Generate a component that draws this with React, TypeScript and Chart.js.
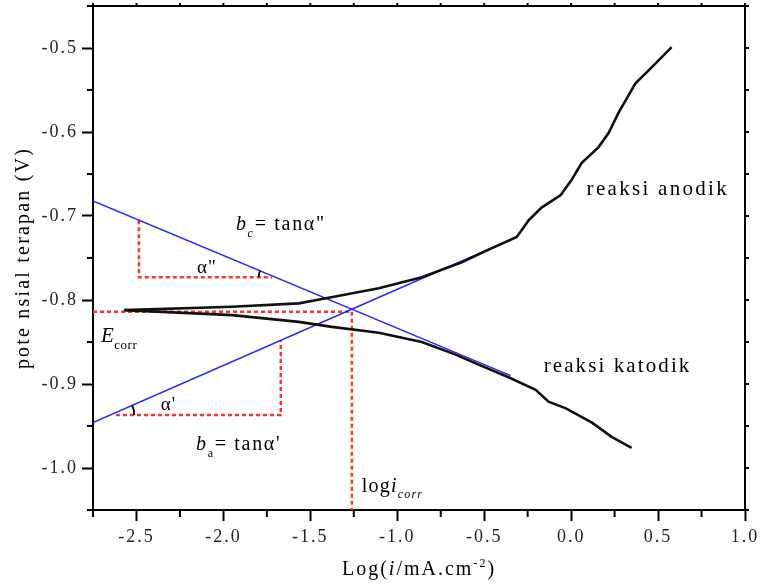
import React, { useEffect, useRef } from 'react';
import { Chart, registerables } from 'chart.js';

Chart.register(...registerables);

const FONT = '"Liberation Serif", "Times New Roman", serif';

// Axis ranges and ticks
const X_MIN = -2.75;
const X_MAX = 1.0;
const Y_MIN = -1.05;
const Y_MAX = -0.45;
const X_TICKS = [-2.5, -2.0, -1.5, -1.0, -0.5, 0.0, 0.5, 1.0];
const X_MINOR = [-2.75, -2.25, -1.75, -1.25, -0.75, -0.25, 0.25, 0.75];
const Y_TICKS = [-1.0, -0.9, -0.8, -0.7, -0.6, -0.5];
const Y_MINOR = [-1.05, -0.95, -0.85, -0.75, -0.65, -0.55, -0.45];

// Anodic branch (black, upper)
const ANODIC_X = [-2.57, -1.95, -1.566, -1.41, -1.106, -0.859, -0.629, -0.474, -0.313, -0.285, -0.244, -0.17, -0.06, 0.003, 0.06, 0.158, 0.216, 0.273, 0.37, 0.463, 0.578];
const ANODIC_Y = [-0.812, -0.808, -0.804, -0.798, -0.786, -0.773, -0.755, -0.740, -0.725, -0.717, -0.705, -0.690, -0.675, -0.657, -0.637, -0.618, -0.601, -0.577, -0.542, -0.523, -0.499];

// Cathodic branch (black, lower)
const CATHODIC_X = [-2.57, -1.95, -1.566, -1.376, -1.106, -0.859, -0.664, -0.532, -0.36, -0.204, -0.13, -0.03, 0.12, 0.233, 0.348];
const CATHODIC_Y = [-0.812, -0.818, -0.826, -0.832, -0.839, -0.850, -0.865, -0.877, -0.892, -0.907, -0.921, -0.929, -0.946, -0.963, -0.976];

// Tafel extrapolation lines (blue)
const TAFEL_C_X = [-2.75, -0.348];
const TAFEL_C_Y = [-0.682, -0.890];
const TAFEL_A_X = [-2.75, -0.313];
const TAFEL_A_Y = [-0.946, -0.725];

// Red dashed construction lines
const ECORR_X = [-2.75, -1.261, -1.261];
const ECORR_Y = [-0.814, -0.814, -1.05];
const TRI_C_X = [-2.486, -2.486, -1.72];
const TRI_C_Y = [-0.705, -0.773, -0.773];
const TRI_A_X = [-2.618, -1.67, -1.67];
const TRI_A_Y = [-0.937, -0.937, -0.848];

const pts = (xs: number[], ys: number[]) => xs.map((x, i) => ({ x, y: ys[i] }));

type Run = { t: string; it?: boolean; sub?: boolean; sup?: boolean };

function drawRich(ctx: any, runs: Run[], x: number, y: number, size: number, spacing: number, align: 'left' | 'center') {
  const fontOf = (r: Run) => `${r.it ? 'italic ' : ''}${r.sub || r.sup ? Math.round(size * 0.62) : size}px ${FONT}`;
  ctx.save();
  ctx.letterSpacing = spacing + 'px';
  ctx.textAlign = 'left';
  ctx.textBaseline = 'alphabetic';
  ctx.fillStyle = '#000';
  let w = 0;
  for (const r of runs) {
    ctx.font = fontOf(r);
    w += ctx.measureText(r.t).width;
  }
  let cx = align === 'center' ? x - w / 2 : x;
  for (const r of runs) {
    ctx.font = fontOf(r);
    const dy = r.sub ? size * 0.32 : r.sup ? -size * 0.42 : 0;
    ctx.fillText(r.t, cx, y + dy);
    cx += ctx.measureText(r.t).width;
  }
  ctx.restore();
}

const ANNOTATIONS: { runs: Run[]; x: number; y: number; size: number; sp: number }[] = [
  { runs: [{ t: 'b', it: true }, { t: 'c', it: true, sub: true }, { t: '= tanα"' }], x: -1.928, y: -0.717, size: 20, sp: 1.7 },
  { runs: [{ t: 'α"' }], x: -2.152, y: -0.768, size: 19, sp: 1 },
  { runs: [{ t: 'E', it: true }, { t: 'corr', sub: true }], x: -2.704, y: -0.850, size: 21, sp: 0.5 },
  { runs: [{ t: "α'" }], x: -2.36, y: -0.931, size: 19, sp: 1 },
  { runs: [{ t: 'b', it: true }, { t: 'a', sub: true }, { t: "= tanα'" }], x: -2.158, y: -0.979, size: 20, sp: 1.7 },
  { runs: [{ t: 'log' }, { t: 'i', it: true }, { t: 'corr', it: true, sub: true }], x: -1.204, y: -1.0286, size: 20, sp: 1.2 },
  { runs: [{ t: 'reaksi anodik' }], x: 0.089, y: -0.675, size: 21, sp: 2.3 },
  { runs: [{ t: 'reaksi katodik' }], x: -0.158, y: -0.886, size: 21, sp: 2.1 },
];

function lineXAtY(xs: number[], ys: number[], y: number) {
  const t = (y - ys[0]) / (ys[1] - ys[0]);
  return xs[0] + t * (xs[1] - xs[0]);
}

const decorPlugin = {
  id: 'decor',
  beforeDraw(chart: any) {
    chart.ctx.letterSpacing = '2px';
  },
  afterDatasetsDraw(chart: any) {
    const { ctx, scales } = chart;
    const sx = scales.x, sy = scales.y;
    ctx.save();
    ctx.strokeStyle = '#000';
    ctx.lineWidth = 1.8;
    // angle arc α" (cathodic line vs horizontal)
    const yc = TRI_C_Y[2];
    const xc = lineXAtY(TAFEL_C_X, TAFEL_C_Y, yc);
    const px1 = sx.getPixelForValue(xc), py1 = sy.getPixelForValue(yc);
    const angC = Math.atan2(sy.getPixelForValue(TAFEL_C_Y[0]) - py1, sx.getPixelForValue(TAFEL_C_X[0]) - px1);
    ctx.beginPath();
    ctx.arc(px1, py1, 17, Math.PI, angC + 2 * Math.PI);
    ctx.stroke();
    // angle arc α' (anodic line vs horizontal)
    const ya = TRI_A_Y[0];
    const xa = lineXAtY(TAFEL_A_X, TAFEL_A_Y, ya);
    const px2 = sx.getPixelForValue(xa), py2 = sy.getPixelForValue(ya);
    const angA = Math.atan2(sy.getPixelForValue(TAFEL_A_Y[1]) - py2, sx.getPixelForValue(TAFEL_A_X[1]) - px2);
    ctx.beginPath();
    ctx.arc(px2, py2, 24, angA, 0);
    ctx.stroke();
    ctx.restore();
  },
  afterDraw(chart: any) {
    const { ctx, chartArea, scales } = chart;
    const sx = scales.x, sy = scales.y;
    const { left, right, top, bottom } = chartArea;
    ctx.save();
    ctx.letterSpacing = '0px';
    ctx.strokeStyle = '#000';
    ctx.lineWidth = 2;
    ctx.beginPath();
    ctx.moveTo(left - 1, top);
    ctx.lineTo(right, top);
    ctx.lineTo(right, bottom + 1);
    ctx.stroke();
    // minor ticks
    ctx.beginPath();
    for (const v of X_MINOR) {
      const p = sx.getPixelForValue(v);
      ctx.moveTo(p, bottom);
      ctx.lineTo(p, bottom + 7);
    }
    for (const v of Y_MINOR) {
      const p = sy.getPixelForValue(v);
      ctx.moveTo(left, p);
      ctx.lineTo(left - 6, p);
    }
    // top and right ticks
    for (const v of [...X_TICKS, ...X_MINOR]) {
      const p = sx.getPixelForValue(v);
      ctx.moveTo(p, top);
      ctx.lineTo(p, top - 3);
    }
    for (const v of [...Y_TICKS, ...Y_MINOR]) {
      const p = sy.getPixelForValue(v);
      ctx.moveTo(right, p);
      ctx.lineTo(right + 4, p);
    }
    ctx.stroke();
    ctx.restore();

    // annotations
    for (const a of ANNOTATIONS) {
      drawRich(ctx, a.runs, sx.getPixelForValue(a.x), sy.getPixelForValue(a.y), a.size, a.sp, 'left');
    }

    // axis titles
    drawRich(ctx, [{ t: 'Log(' }, { t: 'i', it: true }, { t: '/mA.cm' }, { t: '-2', sup: true }, { t: ')' }], (left + right) / 2, 575, 20, 2, 'center');
    ctx.save();
    ctx.translate(24, (top + bottom) / 2);
    ctx.rotate(-Math.PI / 2);
    ctx.letterSpacing = '2.2px';
    ctx.font = `20px ${FONT}`;
    ctx.fillStyle = '#000';
    ctx.textAlign = 'center';
    ctx.textBaseline = 'middle';
    ctx.fillText('pote nsial terapan (V)', 0, 0);
    ctx.restore();
    ctx.letterSpacing = '0px';
  },
};

export default function App() {
  const ref = useRef<HTMLCanvasElement>(null);
  useEffect(() => {
    document.body.style.margin = '0';
    const canvas = ref.current!;
    const line = (data: any, color: string, width: number, dash: number[] = []) => ({
      data,
      borderColor: color,
      backgroundColor: color,
      borderWidth: width,
      borderDash: dash,
      showLine: true,
      pointRadius: 0,
      fill: false,
      tension: 0,
    });
    const chart = new Chart(canvas, {
      type: 'scatter',
      data: {
        datasets: [
          line(pts(ANODIC_X, ANODIC_Y), '#111', 2.6),
          line(pts(CATHODIC_X, CATHODIC_Y), '#111', 2.6),
          line(pts(TAFEL_C_X, TAFEL_C_Y), '#2525ff', 1.5),
          line(pts(TAFEL_A_X, TAFEL_A_Y), '#2525ff', 1.5),
          line(pts(ECORR_X, ECORR_Y), '#ff3030', 2.5, [4, 3]),
          line(pts(TRI_C_X, TRI_C_Y), '#ff3030', 2.5, [4, 3]),
          line(pts(TRI_A_X, TRI_A_Y), '#ff3030', 2.5, [4, 3]),
        ] as any,
      },
      options: {
        responsive: false,
        animation: false,
        events: [],
        layout: { padding: { left: 0, right: 16, top: 6, bottom: 0 } },
        plugins: { legend: { display: false }, tooltip: { enabled: false } },
        scales: {
          x: {
            type: 'linear',
            min: X_MIN,
            max: X_MAX,
            afterBuildTicks: (s: any) => { s.ticks = X_TICKS.map((v) => ({ value: v })); },
            afterFit: (s: any) => { s.height = 74; s.paddingLeft = 0; s.paddingRight = 0; },
            ticks: {
              callback: (v: any) => Number(v).toFixed(1),
              font: { family: FONT, size: 18 },
              color: '#222',
              padding: 5,
              maxRotation: 0,
              autoSkip: false,
            },
            grid: { display: true, drawOnChartArea: false, drawTicks: true, tickLength: 11, tickWidth: 2, tickColor: '#000' },
            border: { display: true, color: '#000', width: 2 },
          },
          y: {
            type: 'linear',
            min: Y_MIN,
            max: Y_MAX,
            afterBuildTicks: (s: any) => { s.ticks = Y_TICKS.map((v) => ({ value: v })); },
            afterFit: (s: any) => { s.width = 93; s.paddingTop = 0; s.paddingBottom = 0; },
            ticks: {
              callback: (v: any) => Number(v).toFixed(1),
              font: { family: FONT, size: 18 },
              color: '#222',
              padding: 4,
              autoSkip: false,
            },
            grid: { display: true, drawOnChartArea: false, drawTicks: true, tickLength: 11, tickWidth: 2, tickColor: '#000' },
            border: { display: true, color: '#000', width: 2 },
          },
        },
      },
      plugins: [decorPlugin],
    } as any);
    return () => chart.destroy();
  }, []);
  return <canvas ref={ref} width={761} height={584} style={{ display: 'block' }} />;
}
